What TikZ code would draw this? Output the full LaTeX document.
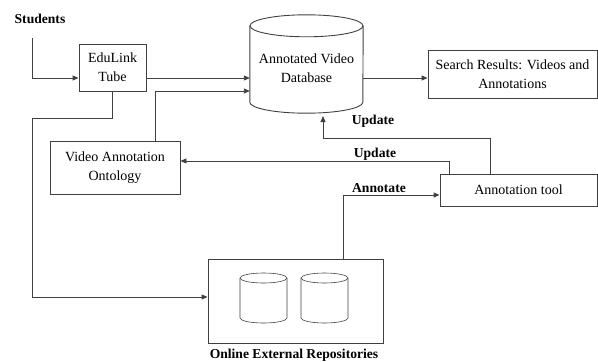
\documentclass[tikz,border=0pt]{standalone}
\usepackage{fontspec}
\setmainfont{Liberation Serif}
\usetikzlibrary{arrows.meta}
\definecolor{linegray}{HTML}{404040}
\begin{document}
\begin{tikzpicture}[x=1pt,y=-1pt,
  line/.style={draw=linegray, line width=0.9pt},
  arr/.style={line, -{Triangle[length=6pt,width=5pt]}},
  txt/.style={font=\fontsize{14}{19}\selectfont, align=center, inner sep=0pt},
  box/.style={txt, draw=linegray, line width=0.9pt, rectangle},
  lbl/.style={font=\fontsize{13.6}{15}\selectfont\bfseries, inner sep=0pt},
  drum/.style={draw=linegray, line width=0.6pt}]
\useasboundingbox (0,0) rectangle (598,362);

% boxes
\node[box, minimum width=67, minimum height=47] (edu) at (112.5,67.5) {EduLink\\Tube};
\node[box, minimum width=169, minimum height=48] (search) at (512.5,74) {Search Results: Videos and\\Annotations};
\node[box, minimum width=130, minimum height=53] (onto) at (115,167.5) {Video Annotation\\Ontology};
\node[box, minimum width=157, minimum height=32] (tool) at (518.5,190) {Annotation tool};
\node[box, minimum width=175, minimum height=84] (repo) at (295.5,301) {};

% database drum
\node[minimum width=113, minimum height=76, inner sep=0pt] (db) at (306.5,64) {};
\draw[line] (db.north west) -- (db.south west)
  arc[start angle=180, end angle=0, x radius=56.5, y radius=11] -- (db.north east);
\draw[line] (db.north) ellipse[x radius=56.5, y radius=11];
\node[txt] (dbtext) at (306.5,68) {Annotated Video\\Database};

% repository drums
\foreach \cx in {263.5,324.5}{
  \draw[drum] (\cx-23.5,278) -- (\cx-23.5,318)
    arc[start angle=180, end angle=0, x radius=23.5, y radius=5] -- (\cx+23.5,278);
  \draw[drum] (\cx,278) ellipse[x radius=23.5, y radius=5];
}

% labels
\node[lbl] (students) at (40,19) {Students};
\node[lbl] (upd1) at (373,121) {Update};
\node[lbl] (upd2) at (375,154) {Update};
\node[lbl] (annot) at (379,188) {Annotate};
\node[lbl] (repolbl) at (294,355) {Online External Repositories};

% routing points
\coordinate (sIn) at (32,38);
\coordinate (rowA) at (0,78);
\coordinate (rowB) at (0,91);
\coordinate (bus) at (32,118);
\coordinate (rowRepo) at (0,297);
\coordinate (ontoOut) at (155.5,141);
\coordinate (updA) at (490,174);
\coordinate (updAturn) at (323,138);
\coordinate (dbIn) at (323,116);
\coordinate (updB) at (449,174);
\coordinate (annOut) at (343,259);

% connectors
\draw[arr] (sIn) |- (edu.west |- rowA);
\draw[arr] (edu.east |- rowA) -- (db.west |- rowA);
\draw[arr] (db.east |- rowA) -- (search.west |- rowA);
\draw[arr] (ontoOut) |- (db.west |- rowB);
\draw[arr] (edu.south) |- (bus) |- (repo.west |- rowRepo);
\draw[arr] (updA) |- (updAturn) -- (dbIn);
\draw[arr] (updB) |- (onto.east |- 0,161);
\draw[arr] (annOut) |- (tool.west |- 0,195);
\end{tikzpicture}
\end{document}
